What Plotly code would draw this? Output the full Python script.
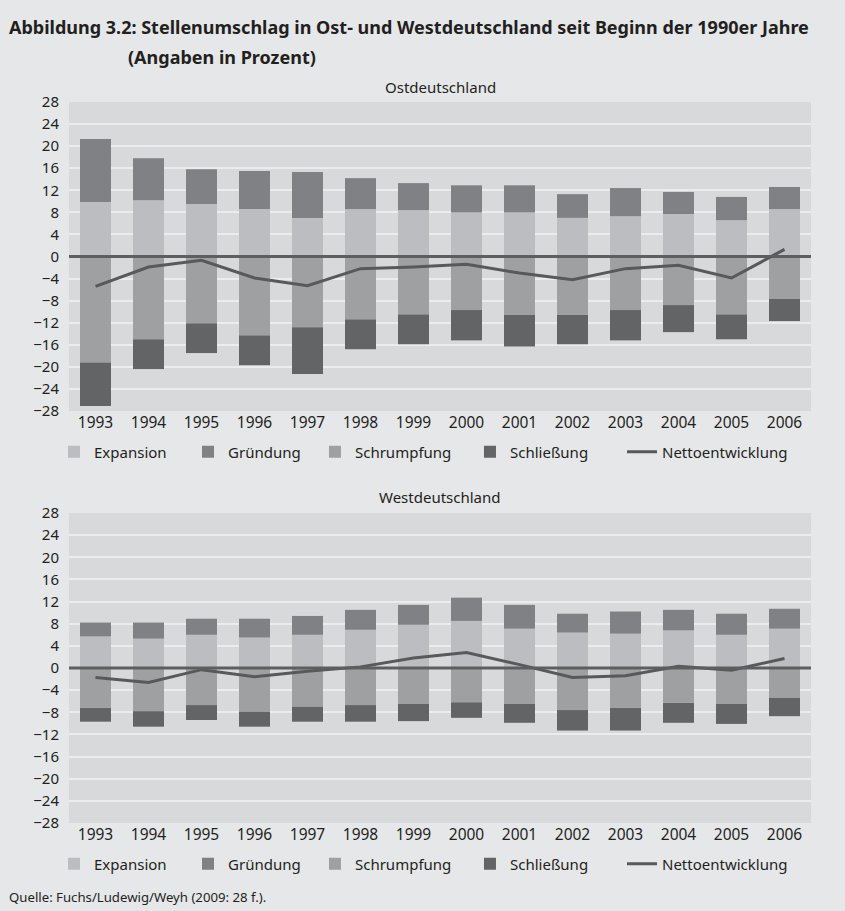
import plotly.graph_objects as go
from plotly.subplots import make_subplots

years = ["1993", "1994", "1995", "1996", "1997", "1998", "1999",
         "2000", "2001", "2002", "2003", "2004", "2005", "2006"]

# Ostdeutschland
ost_expansion = [9.9, 10.2, 9.5, 8.6, 7.0, 8.6, 8.4, 8.0, 8.0, 7.0, 7.3, 7.7, 6.6, 8.6]
ost_gruendung = [11.4, 7.6, 6.3, 6.9, 8.3, 5.6, 4.9, 4.9, 4.9, 4.3, 5.1, 4.0, 4.2, 4.0]
ost_schrumpfung = [-19.2, -15.0, -12.1, -14.3, -12.8, -11.4, -10.5, -9.7, -10.6, -10.6, -9.7, -8.8, -10.5, -7.7]
ost_schliessung = [-7.9, -5.4, -5.4, -5.4, -8.5, -5.4, -5.4, -5.5, -5.7, -5.3, -5.5, -4.9, -4.5, -4.0]
ost_netto = [-5.4, -1.9, -0.7, -3.9, -5.3, -2.2, -1.9, -1.4, -3.0, -4.2, -2.2, -1.6, -3.9, 1.3]

# Westdeutschland
west_expansion = [5.7, 5.3, 6.0, 5.5, 6.0, 6.9, 7.8, 8.5, 7.1, 6.4, 6.2, 6.8, 6.0, 7.1]
west_gruendung = [2.5, 2.9, 2.9, 3.4, 3.4, 3.6, 3.6, 4.2, 4.3, 3.4, 4.0, 3.7, 3.8, 3.6]
west_schrumpfung = [-7.2, -7.8, -6.7, -7.9, -7.0, -6.7, -6.5, -6.2, -6.5, -7.6, -7.2, -6.3, -6.5, -5.4]
west_schliessung = [-2.5, -2.8, -2.7, -2.7, -2.7, -3.0, -3.1, -2.8, -3.4, -3.7, -4.1, -3.6, -3.6, -3.3]
west_netto = [-1.7, -2.6, -0.3, -1.6, -0.6, 0.2, 1.8, 2.8, 0.6, -1.7, -1.4, 0.3, -0.4, 1.7]

series_names = ["Expansion", "Gründung", "Schrumpfung", "Schließung", "Nettoentwicklung"]
bar_colors = ["#bcbdc0", "#808184", "#9fa0a2", "#636466"]
line_color = "#58595b"
y_ticks = [28, 24, 20, 16, 12, 8, 4, 0, -4, -8, -12, -16, -20, -24, -28]

FONT = "Noto Sans, Open Sans, DejaVu Sans, sans-serif"
TEXT = "#231f20"
PAGE_BG = "#e6e7e9"
PLOT_BG = "#d8d9db"
GRID = "#ececed"

fig = make_subplots(rows=2, cols=1, vertical_spacing=0.0)

# legend item origins (paper x) for the five entries
legend_x = [-0.0202, 0.1604, 0.3315, 0.5404, 0.7453]
legend_y = {1: 0.5146, 2: -0.0569}

panels = [
    (1, [ost_expansion, ost_gruendung, ost_schrumpfung, ost_schliessung], ost_netto),
    (2, [west_expansion, west_gruendung, west_schrumpfung, west_schliessung], west_netto),
]

lg_index = 1
for row, bars, net in panels:
    for i, vals in enumerate(bars):
        lname = "legend" if lg_index == 1 else f"legend{lg_index}"
        fig.add_trace(
            go.Bar(x=years, y=vals, name=series_names[i], marker_color=bar_colors[i],
                   marker_line_width=0, legend=lname, showlegend=True),
            row=row, col=1)
        fig.update_layout({lname: dict(x=legend_x[i], y=legend_y[row], xanchor="left",
                                       yanchor="middle", orientation="h",
                                       bgcolor="rgba(0,0,0,0)", borderwidth=0,
                                       font=dict(family=FONT, size=15, color=TEXT))})
        lg_index += 1
    lname = f"legend{lg_index}"
    fig.add_trace(
        go.Scatter(x=years, y=net, name=series_names[4], mode="lines",
                   line=dict(color=line_color, width=3), legend=lname, showlegend=True),
        row=row, col=1)
    fig.update_layout({lname: dict(x=legend_x[4], y=legend_y[row], xanchor="left",
                                   yanchor="middle", orientation="h",
                                   bgcolor="rgba(0,0,0,0)", borderwidth=0,
                                   font=dict(family=FONT, size=15, color=TEXT))})
    lg_index += 1

fig.update_layout(
    width=845, height=911,
    margin=dict(l=69, r=34, t=102, b=88),
    paper_bgcolor=PAGE_BG, plot_bgcolor=PLOT_BG,
    barmode="relative", bargap=0.415,
    font=dict(family=FONT, size=15, color=TEXT),
    yaxis=dict(domain=[0.5714, 1.0]),
    yaxis2=dict(domain=[0.0, 0.43]),
)

for ax in ["xaxis", "xaxis2"]:
    fig.update_layout({ax: dict(type="category", showgrid=False, zeroline=False,
                                showline=False, ticks="", tickfont=dict(size=15.5, color=TEXT),
                                fixedrange=True)})
for ax in ["yaxis", "yaxis2"]:
    fig.update_layout({ax: dict(range=[-28, 28], tickmode="array", tickvals=y_ticks,
                                showgrid=True, gridcolor=GRID, gridwidth=2,
                                zeroline=False, showline=False, ticks="outside",
                                ticklen=6, tickcolor="rgba(0,0,0,0)",
                                tickfont=dict(size=15, color=TEXT), fixedrange=True)})

# zero reference lines above bars
for yref, xref in [("y", "x domain"), ("y2", "x2 domain")]:
    fig.add_shape(type="line", xref=xref, yref=yref, x0=0, x1=1, y0=0, y1=0,
                  line=dict(color="#5d5e60", width=3), layer="above")

annotations = [
    dict(text="<b>Abbildung 3.2: Stellenumschlag in Ost- und Westdeutschland seit Beginn der 1990er Jahre</b>",
         x=-0.0836, y=1.104, xanchor="left", yanchor="middle", font=dict(size=18, color=TEXT)),
    dict(text="<b>(Angaben in Prozent)</b>",
         x=0.0768, y=1.0624, xanchor="left", yanchor="middle", font=dict(size=18, color=TEXT)),
    dict(text="Ostdeutschland", x=0.5, y=1.0208, xanchor="center", yanchor="middle",
         font=dict(size=15, color=TEXT)),
    dict(text="Westdeutschland", x=0.5, y=0.4521, xanchor="center", yanchor="middle",
         font=dict(size=15, color=TEXT)),
    dict(text="Quelle: Fuchs/Ludewig/Weyh (2009: 28 f.).", x=-0.0836, y=-0.1026,
         xanchor="left", yanchor="middle", font=dict(size=13.2, color=TEXT)),
]
for a in annotations:
    a.update(xref="paper", yref="paper", showarrow=False)
fig.update_layout(annotations=annotations)

fig.write_html(
    "out.html",
    config={"displayModeBar": False, "staticPlot": True},
    post_script="document.body.style.margin='0';document.body.style.overflow='hidden';",
)
